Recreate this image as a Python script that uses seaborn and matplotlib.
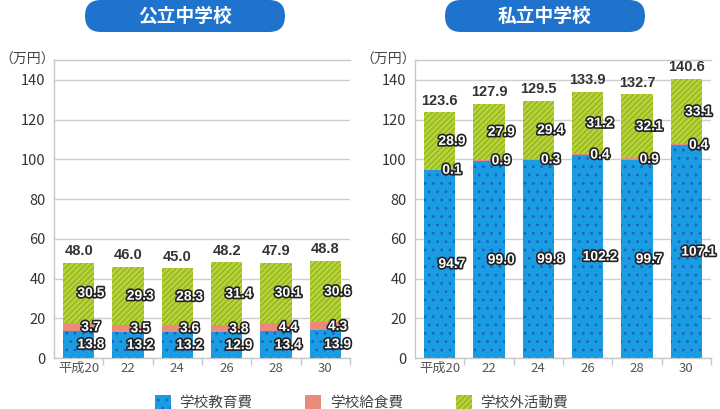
import numpy as np
import pandas as pd
import matplotlib
matplotlib.use('Agg')
import matplotlib.pyplot as plt
import matplotlib.patheffects as pe
from matplotlib.patches import FancyBboxPatch, Patch
import seaborn as sns

years = ['平成20', '22', '24', '26', '28', '30']

pub_edu = [13.8, 13.2, 13.2, 12.9, 13.4, 13.9]
pub_meal = [3.7, 3.5, 3.6, 3.8, 4.4, 4.3]
pub_out = [30.5, 29.3, 28.3, 31.4, 30.1, 30.6]
pub_total = [48.0, 46.0, 45.0, 48.2, 47.9, 48.8]

pri_edu = [94.7, 99.0, 99.8, 102.2, 99.7, 107.1]
pri_meal = [0.1, 0.9, 0.3, 0.4, 0.9, 0.4]
pri_out = [28.9, 27.9, 29.4, 31.2, 32.1, 33.1]
pri_total = [123.6, 127.9, 129.5, 133.9, 132.7, 140.6]

series_names = ['学校教育費', '学校給食費', '学校外活動費']
titles = ['公立中学校', '私立中学校']

c_edu, c_edu_h = '#1a9ce2', '#1f5fc0'
c_meal = '#ea8a7b'
c_out, c_out_h = '#b6d43a', '#8cae1c'
c_pill = '#1f73cd'

sns.set_theme(style='white')
plt.rcParams['font.family'] = ['Noto Sans CJK JP', 'DejaVu Sans']
plt.rcParams['hatch.linewidth'] = 0.8

fig = plt.figure(figsize=(7.2, 4.09), dpi=100)
W, H = 720, 409


def panel(left, edu, meal, out, total, title, pill_x):
    ax = fig.add_axes([left / W, (H - 358) / H, 296 / W, (358 - 60) / H])
    df = pd.DataFrame({'year': years, 'edu': edu, 'meal': meal, 'out': out})
    df['lower'] = df['edu'] + df['meal']
    df['top'] = df['lower'] + df['out']

    sns.barplot(data=df, x='year', y='top', ax=ax, color=c_out, width=0.63,
                saturation=1, edgecolor=c_out_h, linewidth=0, hatch='//////')
    sns.barplot(data=df, x='year', y='lower', ax=ax, color=c_meal, width=0.63,
                saturation=1, linewidth=0)
    sns.barplot(data=df, x='year', y='edu', ax=ax, color=c_edu, width=0.63,
                saturation=1, edgecolor=c_edu_h, linewidth=0, hatch='..')

    stroke = [pe.withStroke(linewidth=2.4, foreground='#222222')]
    for i, row in df.iterrows():
        mids = [row['edu'] / 2, row['edu'] + row['meal'] / 2,
                row['lower'] + row['out'] / 2]
        vals = [row['edu'], row['meal'], row['out']]
        for m, v in zip(mids, vals):
            ax.text(i + 0.25, m, f'{v:.1f}', ha='center', va='center',
                    color='white', fontsize=10, fontweight='bold',
                    family='Liberation Sans', path_effects=stroke, zorder=5)
        ax.text(i, total[i] + 2.3, f'{total[i]:.1f}', ha='center',
                va='bottom', color='#333333', fontsize=10.5,
                fontweight='bold', family='Liberation Sans')

    ax.set_xlim(-0.5, 5.5)
    ax.set_ylim(0, 150)
    ax.set_yticks(range(0, 141, 20))
    ax.yaxis.grid(True, color='#cfcfcf', linewidth=1)
    ax.set_axisbelow(True)
    ax.set_xlabel('')
    ax.set_ylabel('')
    for s in ['left', 'bottom', 'top']:
        ax.spines[s].set_color('#c8c8c8')
        ax.spines[s].set_linewidth(1)
    ax.spines['right'].set_visible(False)
    ax.set_xticks(np.arange(0.5, 6, 1), minor=True)
    ax.tick_params(axis='x', which='minor', length=5, color='#c8c8c8',
                   width=1, direction='out', bottom=True)
    ax.tick_params(axis='x', which='major', length=0, labelsize=9.5,
                   labelcolor='#555555', pad=3)
    ax.tick_params(axis='y', length=0, labelsize=10.5, labelcolor='#333333',
                   pad=6)

    fig.text((left - 27) / W, (H - 60) / H, '（万円）', ha='center',
             va='center', fontsize=10, color='#444444')

    # title pill, drawn in its own pixel-scaled axes
    pax = fig.add_axes([pill_x / W, (H - 32) / H, 200 / W, 32 / H])
    pax.set_xlim(0, 200)
    pax.set_ylim(0, 32)
    pax.axis('off')
    pax.add_patch(FancyBboxPatch((0, 0), 200, 32,
                                 boxstyle='round,pad=0,rounding_size=16',
                                 facecolor=c_pill, edgecolor='none',
                                 clip_on=False))
    pax.text(100, 16, title, ha='center', va='center', fontsize=13.5,
             fontweight='bold', color='white')
    return ax


panel(54, pub_edu, pub_meal, pub_out, pub_total, titles[0], 85)
panel(415, pri_edu, pri_meal, pri_out, pri_total, titles[1], 445)

handles = [
    Patch(facecolor=c_edu, edgecolor=c_edu_h, hatch='..', linewidth=0),
    Patch(facecolor=c_meal, edgecolor='none', linewidth=0),
    Patch(facecolor=c_out, edgecolor=c_out_h, hatch='//////', linewidth=0),
]
fig.legend(handles, series_names, ncol=3, loc='center',
           bbox_to_anchor=(0.502, (H - 402) / H), frameon=False,
           handlelength=1.1, handleheight=1.1, handletextpad=0.6,
           columnspacing=3.6, fontsize=10.5, labelcolor='#444444')

fig.savefig('out.png', dpi=100, facecolor='white')
